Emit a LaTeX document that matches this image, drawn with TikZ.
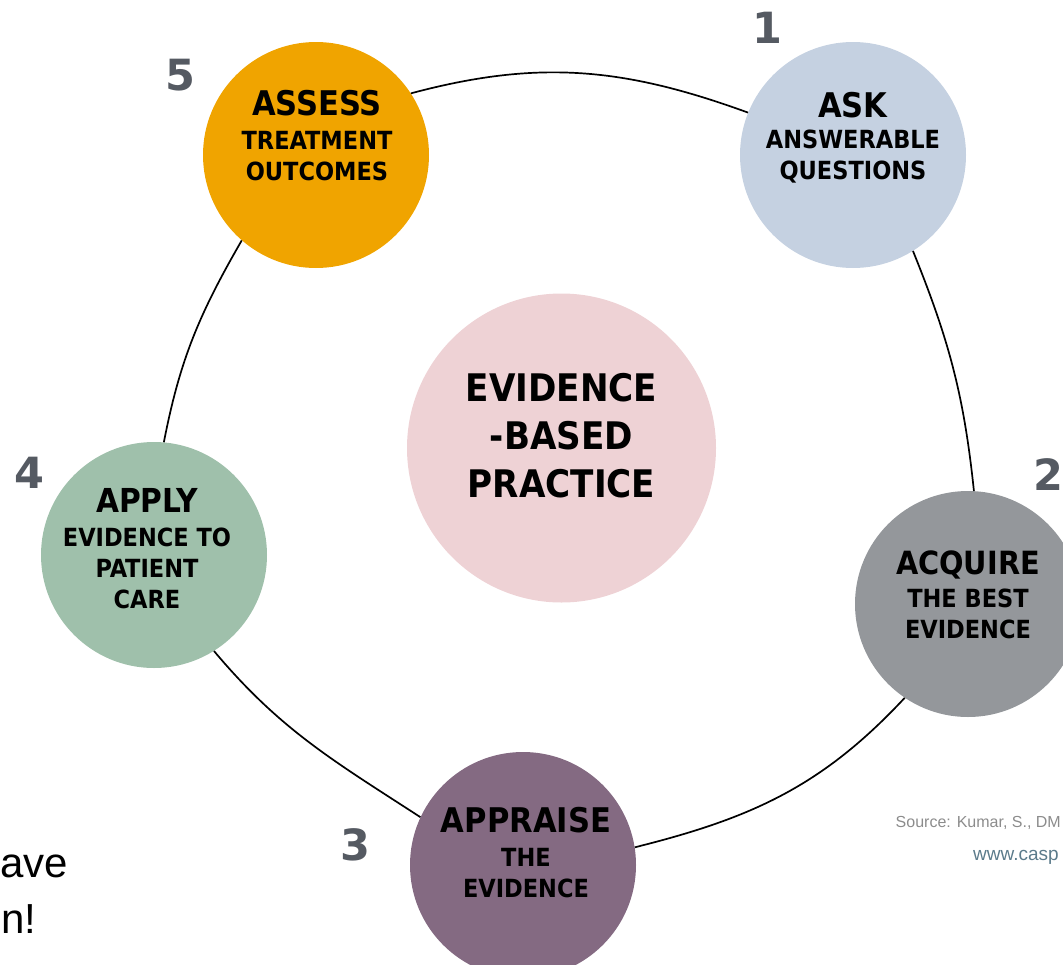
\documentclass[tikz,border=0pt]{standalone}
\usepackage{fontspec}
\setmainfont{Liberation Sans}
\newfontfamily\condfont{DejaVu Sans Condensed Bold}
\newfontfamily\numfont{DejaVu Sans Bold}
\definecolor{askc}{HTML}{C5D1E1}
\definecolor{acqc}{HTML}{94979B}
\definecolor{aprc}{HTML}{846A82}
\definecolor{aplc}{HTML}{9FC0AB}
\definecolor{assc}{HTML}{F0A400}
\definecolor{ebpc}{HTML}{EED2D5}
\definecolor{numgray}{HTML}{555A62}
\definecolor{srcgray}{HTML}{8C8C8C}
\definecolor{urlc}{HTML}{5B7B8B}
\tikzset{
  stage/.style={circle, minimum size=226pt, inner sep=0pt, draw=none},
  ringline/.style={black, line width=1.7pt},
  head/.style={anchor=north, inner sep=0pt, align=center, text=black,
    font=\condfont\fontsize{25}{31}\selectfont},
  stepnum/.style={inner sep=0pt, anchor=center, text=numgray,
    font=\numfont\fontsize{43}{43}\selectfont},
}
\begin{document}
\begin{tikzpicture}[x=1pt,y=1pt]
\useasboundingbox (0,-964) rectangle (1063,0);
% circles
\node[stage, fill=askc] (ask) at (853,-155) {};
\node[stage, fill=acqc] (acquire) at (968,-604) {};
\node[stage, fill=aprc] (appraise) at (523,-865) {};
\node[stage, fill=aplc] (apply) at (154,-555) {};
\node[stage, fill=assc] (assess) at (316,-155) {};
\node[circle, minimum size=309pt, inner sep=0pt, fill=ebpc] (ebp) at (561.5,-448) {};
% ring connectors
\draw[ringline] (assess.33) to[out=15, in=160] (ask.158);
\draw[ringline] (ask.-58) to[out=-68, in=96] (acquire.87);
\draw[ringline] (acquire.236) to[out=227, in=14] (appraise.9);
\draw[ringline] (apply.-58) to[out=-50, in=147] (appraise.155);
\draw[ringline] (assess.229) to[out=240, in=79] (apply.85);
% texts
\node[head] (asktxt) at (853,-92) {{\fontsize{34}{34}\selectfont ASK}\\ANSWERABLE\\QUESTIONS};
\node[head] (acqtxt) at (968,-551) {{\fontsize{32}{32}\selectfont ACQUIRE}\\[2pt]THE BEST\\EVIDENCE};
\node[head] (aprtxt) at (526,-807) {{\fontsize{34}{34}\selectfont APPRAISE}\\[3pt]THE\\EVIDENCE};
\node[head] (apltxt) at (147,-488) {{\fontsize{33}{33}\selectfont APPLY}\\[3pt]EVIDENCE TO\\PATIENT\\CARE};
\node[head] (asstxt) at (317,-90) {{\fontsize{34}{34}\selectfont ASSESS}\\[3pt]TREATMENT\\OUTCOMES};
\node[head, font=\condfont\fontsize{38}{48}\selectfont] (ebptxt) at (561.5,-373) {EVIDENCE\\-BASED\\PRACTICE};
% step numbers
\node[stepnum] (n1) at (767,-28) {1};
\node[stepnum] (n2) at (1048,-475) {2};
\node[stepnum] (n3) at (355,-845) {3};
\node[stepnum] (n4) at (29,-473) {4};
\node[stepnum] (n5) at (180,-75) {5};
% side texts
\node[anchor=base east, inner sep=0pt, text=srcgray, font=\fontsize{16}{16}\selectfont] (src) at (1061,-827) {Source: Kumar, S., DM};
\node[anchor=base west, inner sep=0pt, text=urlc, font=\fontsize{19}{19}\selectfont] (url) at (973,-860) {www.casp};
\node[anchor=base east, inner sep=0pt, text=black, font=\fontsize{42}{42}\selectfont] (ave) at (68,-877) {ave};
\node[anchor=base west, inner sep=0pt, text=black, font=\fontsize{42}{42}\selectfont] (nex) at (1,-933) {n!};
\end{tikzpicture}
\end{document}
